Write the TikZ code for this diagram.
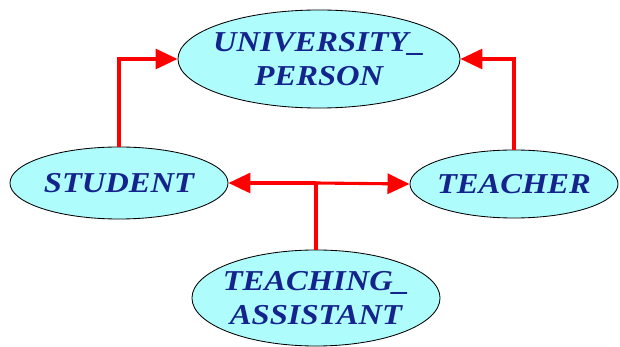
\documentclass[tikz,border=0pt]{standalone}
\usepackage{fontspec}
\setmainfont{Liberation Serif}[FakeStretch=1.13]
\usetikzlibrary{shapes.geometric,arrows.meta,positioning}
\definecolor{classfill}{HTML}{AEFCFC}
\definecolor{classtext}{HTML}{14248C}

\begin{document}
\begin{tikzpicture}[x=0.025cm,y=-0.025cm,
  class/.style={ellipse,draw=black,semithick,fill=classfill,text=classtext,inner ysep=0pt,inner xsep=-1cm,
    align=center,font=\bfseries\itshape\fontsize{20.5}{24.5}\selectfont},
  isa/.style={red,line width=2.2pt,-{Triangle[length=0.55cm,width=0.5cm]}}]
  \useasboundingbox (0,0) rectangle (620,347);
					\node[class,minimum width=7.05cm,minimum height=2.45cm] (univperson) at (319,59) {UNIVERSITY\_\\PERSON};
					\node[class,minimum width=5.45cm,minimum height=1.8cm] (student) at (119,183) {STUDENT};
					\node[class,minimum width=5.2cm,minimum height=1.7cm] (teacher) at (514,184) {TEACHER};
					\node[class,minimum width=6.2cm,minimum height=2.4cm] (tassistant) at (316,298) {TEACHING\_\\ASSISTANT};
					\coordinate (split) at (tassistant.north |- student.east);
				% generalisation links
				\draw[isa] (student.north) |- (univperson.west);
				\draw[isa] (teacher.north) |- (univperson.east);
				\draw[red,line width=2.2pt] (tassistant.north) -- (split);
				\draw[isa] (split) -- (student.east);
				\draw[isa] (split) -- (teacher.west);
\end{tikzpicture}
\end{document}
